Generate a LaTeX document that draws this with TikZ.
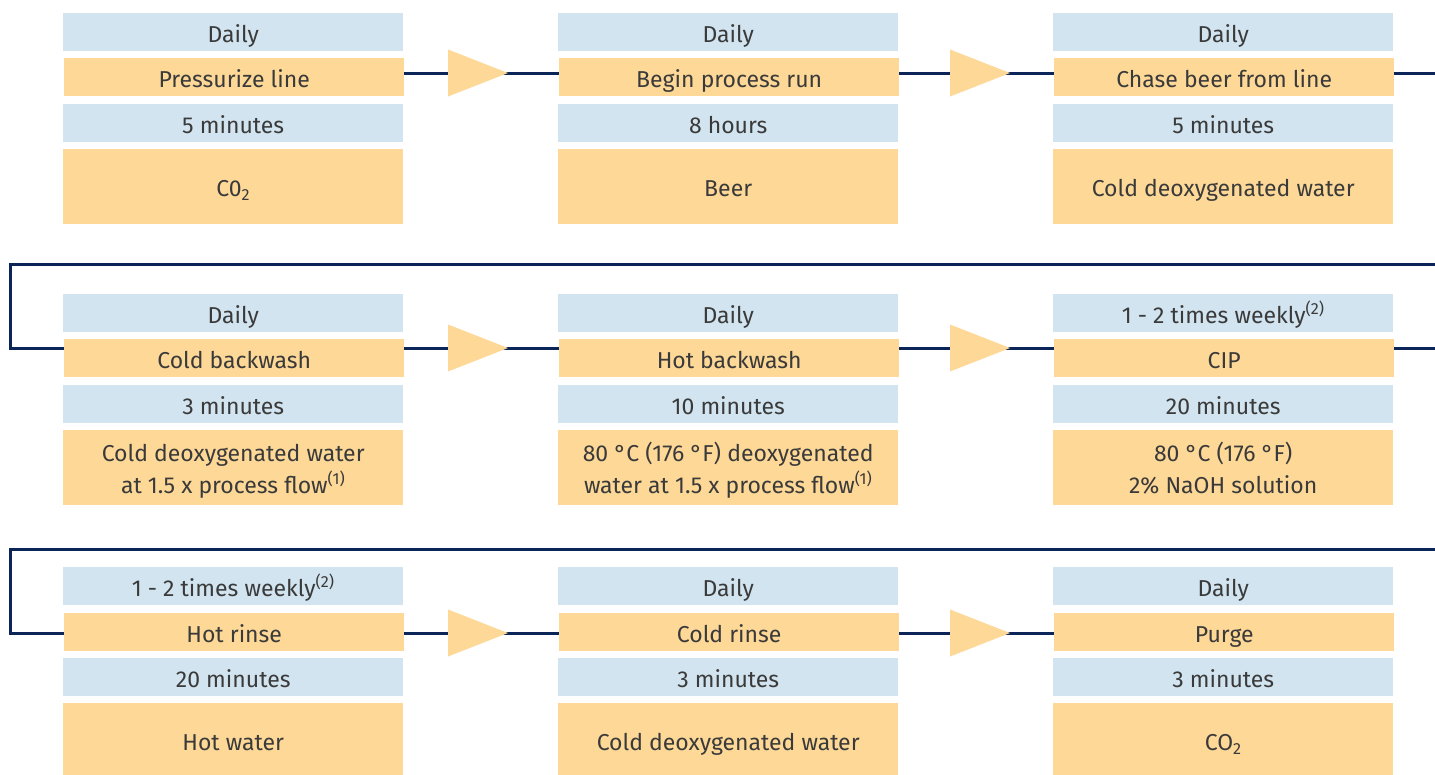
\documentclass[tikz,border=0pt]{standalone}
\usepackage{fontspec}
\setmainfont{Fira Sans}
\definecolor{barblue}{HTML}{D2E4F0}
\definecolor{barorange}{HTML}{FDD897}
\definecolor{linenavy}{HTML}{0B2559}
\definecolor{txtgray}{HTML}{3A3A3A}
\begin{document}
\begin{tikzpicture}[x=1pt,y=-1pt,
  bar/.style={rectangle, inner sep=0pt, minimum width=340pt, anchor=north west,
    text=txtgray, font=\fontsize{23}{32}\selectfont, align=center},
  bluebar/.style={bar, fill=barblue, minimum height=38pt, text height=29.5pt, text depth=8.5pt},
  orangebar/.style={bar, fill=barorange, minimum height=38pt, text height=29.5pt, text depth=8.5pt},
  bigbox/.style={bar, fill=barorange, minimum height=75pt, text height=47.5pt, text depth=27.5pt},
  bigboxtwo/.style={bar, fill=barorange, minimum height=75pt, text height=63.5pt, text depth=11.5pt},
  flow/.style={draw=linenavy, line width=3pt},
  tri/.style={fill=barorange}]
\useasboundingbox (0,0) rectangle (1435,774);

% ---------- row 1 ----------
\node[bluebar]   (d11) at (63,13)   {Daily};
\node[orangebar] (s11) at (64,58)   {Pressurize line};
\node[bluebar]   (t11) at (63,104)  {5 minutes};
\node[bigbox]    (m11) at (63,149)  {C0\textsubscript{2}};

\node[bluebar]   (d12) at (558,13)  {Daily};
\node[orangebar] (s12) at (559,58)  {Begin process run};
\node[bluebar]   (t12) at (558,104) {8 hours};
\node[bigbox]    (m12) at (558,149) {Beer};

\node[bluebar]   (d13) at (1053,13)  {Daily};
\node[orangebar] (s13) at (1054,58)  {Chase beer from line};
\node[bluebar]   (t13) at (1053,104) {5 minutes};
\node[bigbox]    (m13) at (1053,149) {Cold deoxygenated water};

% ---------- row 2 ----------
\node[bluebar]   (d21) at (63,294)  {Daily};
\node[orangebar] (s21) at (64,339)  {Cold backwash};
\node[bluebar]   (t21) at (63,385)  {3 minutes};
\node[bigboxtwo] (m21) at (63,430)  {Cold deoxygenated water\\at 1.5 x process flow\textsuperscript{(1)}};

\node[bluebar]   (d22) at (558,294) {Daily};
\node[orangebar] (s22) at (559,339) {Hot backwash};
\node[bluebar]   (t22) at (558,385) {10 minutes};
\node[bigboxtwo] (m22) at (558,430) {80 °C (176 °F) deoxygenated\\water at 1.5 x process flow\textsuperscript{(1)}};

\node[bluebar]   (d23) at (1053,294) {1 - 2 times weekly\textsuperscript{(2)}};
\node[orangebar] (s23) at (1054,339) {CIP};
\node[bluebar]   (t23) at (1053,385) {20 minutes};
\node[bigboxtwo] (m23) at (1053,430) {80 °C (176 °F)\\2\% NaOH solution};

% ---------- row 3 ----------
\node[bluebar]   (d31) at (63,567)  {1 - 2 times weekly\textsuperscript{(2)}};
\node[orangebar] (s31) at (64,613)  {Hot rinse};
\node[bluebar]   (t31) at (63,658)  {20 minutes};
\node[bigbox]    (m31) at (63,703)  {Hot water};

\node[bluebar]   (d32) at (558,567) {Daily};
\node[orangebar] (s32) at (559,613) {Cold rinse};
\node[bluebar]   (t32) at (558,658) {3 minutes};
\node[bigbox]    (m32) at (558,703) {Cold deoxygenated water};

\node[bluebar]   (d33) at (1053,567) {Daily};
\node[orangebar] (s33) at (1054,613) {Purge};
\node[bluebar]   (t33) at (1053,658) {3 minutes};
\node[bigbox]    (m33) at (1053,703) {CO\textsubscript{2}};

% ---------- connector levels ----------
\coordinate (r1) at (0,73);
\coordinate (r2) at (0,348);
\coordinate (r3) at (0,633);
\coordinate (exit1) at (1435,73);
\coordinate (loop1) at (1435,264);
\coordinate (exit2) at (1435,348);
\coordinate (loop2) at (1435,549);

% row 1
\draw[flow] (s11.east |- r1) -- (s12.west |- r1);
\draw[flow] (s12.east |- r1) -- (s13.west |- r1);
\draw[flow] (s13.east |- r1) -- (exit1);
% return to row 2
\draw[flow] (loop1) -- (10,264) -- (10,348) -- (s21.west |- r2);
% row 2
\draw[flow] (s21.east |- r2) -- (s22.west |- r2);
\draw[flow] (s22.east |- r2) -- (s23.west |- r2);
\draw[flow] (s23.east |- r2) -- (exit2);
% return to row 3
\draw[flow] (loop2) -- (10,549) -- (10,633) -- (s31.west |- r3);
% row 3
\draw[flow] (s31.east |- r3) -- (s32.west |- r3);
\draw[flow] (s32.east |- r3) -- (s33.west |- r3);

% ---------- direction triangles ----------
\foreach \r in {r1,r2,r3}{
  \foreach \cx in {478,980}{
    \fill[tri] (\cx,0 |- \r) ++(-30,-23.5) -- ++(60,23.5) -- ++(-60,23.5) -- cycle;
  }
}
\end{tikzpicture}
\end{document}
